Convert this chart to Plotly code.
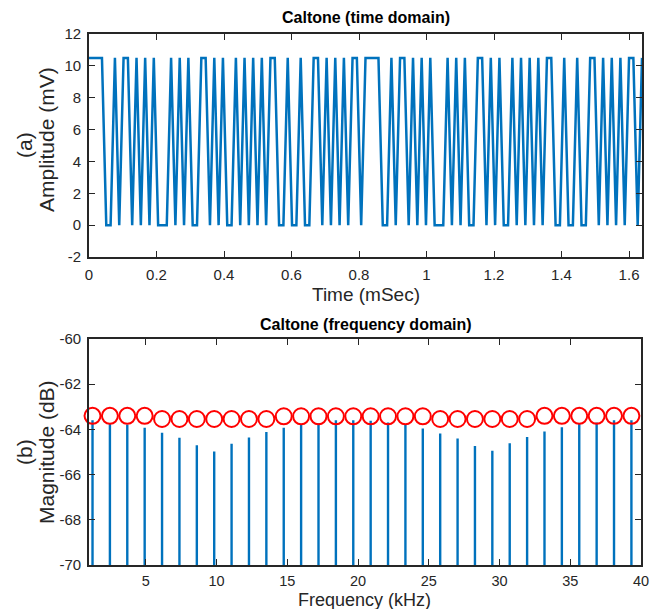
import plotly.graph_objects as go

# ---------------- data ----------------
AMP_HIGH_MV = 10.5
SAMPLE_DT_MS = 0.0128

# sample states (1 = high, 0 = low), 129 samples
sample_bits = [
    1, 1, 1, 1, 0, 0, 1, 0, 1, 1, 0, 1, 0, 1, 0, 1, 0, 0, 0, 1, 0, 1, 0, 1, 0, 0, 1, 1, 0, 1, 0, 1,
    0, 0, 1, 0, 1, 0, 1, 0, 1, 0, 1, 1, 0, 0, 1, 0, 0, 1, 0, 0, 1, 1, 0, 1, 0, 1, 0, 1, 0, 1, 1, 0,
    1, 1, 1, 1, 0, 0, 1, 0, 1, 1, 0, 1, 0, 1, 0, 1, 0, 0, 0, 1, 0, 1, 0, 1, 0, 0, 1, 1, 0, 1, 0, 1,
    0, 0, 1, 0, 1, 0, 1, 0, 1, 0, 1, 1, 0, 0, 1, 0, 0, 1, 0, 0, 1, 1, 0, 1, 0, 1, 0, 1, 0, 1, 1, 0,
    1,
]
amplitude_mv = [b * AMP_HIGH_MV for b in sample_bits]
time_ms = [i * SAMPLE_DT_MS for i in range(len(amplitude_mv))]

freq_khz = [1.229, 2.458, 3.686, 4.915, 6.144, 7.373, 8.602, 9.830, 11.059, 12.288,
            13.517, 14.746, 15.974, 17.203, 18.432, 19.661, 20.890, 22.118, 23.347, 24.576,
            25.805, 27.034, 28.262, 29.491, 30.720, 31.949, 33.178, 34.406, 35.635, 36.864,
            38.093, 39.322]
stem_db = [-63.60, -63.75, -63.78, -63.93, -64.15, -64.37, -64.70, -64.98, -64.64, -64.36,
           -64.12, -63.93, -63.78, -63.73, -63.59, -63.59, -63.62, -63.70, -63.78, -63.96,
           -64.18, -64.40, -64.74, -64.95, -64.61, -64.34, -64.09, -63.90, -63.73, -63.70,
           -63.59, -63.59]
circle_db = [-63.40, -63.40, -63.40, -63.40, -63.54, -63.54, -63.54, -63.54, -63.54, -63.54,
             -63.54, -63.42, -63.42, -63.42, -63.42, -63.42, -63.42, -63.42, -63.42, -63.42,
             -63.54, -63.54, -63.54, -63.54, -63.54, -63.54, -63.40, -63.40, -63.40, -63.40,
             -63.40, -63.40]
STEM_BASE_DB = -80

time_ticks = [0, 0.2, 0.4, 0.6, 0.8, 1.0, 1.2, 1.4, 1.6]
time_tick_labels = ["0", "0.2", "0.4", "0.6", "0.8", "1", "1.2", "1.4", "1.6"]
amp_ticks = [-2, 0, 2, 4, 6, 8, 10, 12]
amp_tick_labels = ["-2", "0", "2", "4", "6", "8", "10", "12"]
freq_ticks = [5, 10, 15, 20, 25, 30, 35, 40]
freq_tick_labels = ["5", "10", "15", "20", "25", "30", "35", "40"]
db_ticks = [-70, -68, -66, -64, -62, -60]
db_tick_labels = ["-70", "-68", "-66", "-64", "-62", "-60"]

# ---------------- style ----------------
PAGE_OFF = 8          # default page margin of the html body
W, H = 662 - PAGE_OFF, 609 - PAGE_OFF
FONT = "Liberation Sans, Arial, Helvetica, sans-serif"
AX = "#262626"
BLUE = "#0072BD"


def px_x(p):
    return (p - PAGE_OFF) / W


def px_y(p):
    return 1 - (p - PAGE_OFF) / H


fig = go.Figure()

fig.add_trace(go.Scatter(
    x=time_ms, y=amplitude_mv, mode="lines",
    line=dict(color=BLUE, width=2.5), xaxis="x", yaxis="y", showlegend=False,
    hoverinfo="skip"))

stem_x, stem_y = [], []
for f, m in zip(freq_khz, stem_db):
    stem_x += [f, f, None]
    stem_y += [STEM_BASE_DB, m, None]
fig.add_trace(go.Scatter(
    x=stem_x, y=stem_y, mode="lines",
    line=dict(color=BLUE, width=2.4), xaxis="x2", yaxis="y2", showlegend=False,
    hoverinfo="skip"))

fig.add_trace(go.Scatter(
    x=freq_khz, y=circle_db, mode="markers",
    marker=dict(symbol="circle-open", size=16, color="#FF0000",
                line=dict(color="#FF0000", width=2)),
    xaxis="x2", yaxis="y2", showlegend=False, cliponaxis=False, hoverinfo="skip"))

axis_common = dict(
    showline=True, linecolor=AX, linewidth=1.8, mirror="allticks",
    ticks="inside", ticklen=6, tickwidth=1.2, tickcolor=AX,
    showgrid=False, zeroline=False, automargin=False,
    tickfont=dict(family=FONT, size=15, color=AX), ticklabelstandoff=3,
)
bottom_x_axis = dict(axis_common)
bottom_x_axis["ticklabelstandoff"] = 2
bottom_x_axis["tickfont"] = dict(family=FONT, size=14.5, color=AX)

top_x = [px_x(89), px_x(642)]
top_y = [px_y(257), px_y(34)]
bot_x = [px_x(89), px_x(641)]
bot_y = [px_y(565), px_y(339)]

fig.update_layout(
    width=W, height=H,
    margin=dict(l=0, r=0, t=0, b=0),
    paper_bgcolor="white", plot_bgcolor="white",
    showlegend=False,
    xaxis=dict(domain=top_x, anchor="y", range=[0, 1.6384], tickvals=time_ticks,
               ticktext=time_tick_labels, **axis_common),
    yaxis=dict(domain=top_y, anchor="x", range=[-2, 12], tickvals=amp_ticks,
               ticktext=amp_tick_labels, **axis_common),
    xaxis2=dict(domain=bot_x, anchor="y2", range=[0.98, 40], tickvals=freq_ticks,
                ticktext=freq_tick_labels, **bottom_x_axis),
    yaxis2=dict(domain=bot_y, anchor="x2", range=[-70, -60], tickvals=db_ticks,
                ticktext=db_tick_labels, **axis_common),
)

ann = []
ann.append(dict(text="<b>Caltone (time domain)</b>", x=px_x(366), y=px_y(18), xref="paper", yref="paper",
                showarrow=False, font=dict(family=FONT, size=16, color="black"), xanchor="center", yanchor="middle"))
ann.append(dict(text="<b>Caltone (frequency domain)</b>", x=px_x(366), y=px_y(324), xref="paper", yref="paper",
                showarrow=False, font=dict(family=FONT, size=16, color="black"), xanchor="center", yanchor="middle"))
ann.append(dict(text="Time (mSec)", x=px_x(366), y=px_y(294), xref="paper", yref="paper",
                showarrow=False, font=dict(family=FONT, size=19, color=AX), xanchor="center", yanchor="middle"))
ann.append(dict(text="Frequency (kHz)", x=px_x(365), y=px_y(600), xref="paper", yref="paper",
                showarrow=False, font=dict(family=FONT, size=18, color=AX), xanchor="center", yanchor="middle"))
for txt, xc, yc in [("(a)", 24, 145), ("Amplitude (mV)", 46, 140), ("(b)", 24, 452), ("Magnitude (dB)", 46, 452)]:
    ann.append(dict(text=txt, x=px_x(xc), y=px_y(yc), xref="paper", yref="paper", textangle=-90,
                    showarrow=False, font=dict(family=FONT, size=21, color=AX),
                    xanchor="center", yanchor="middle"))
fig.update_layout(annotations=ann)

fig.write_html("out.html")
